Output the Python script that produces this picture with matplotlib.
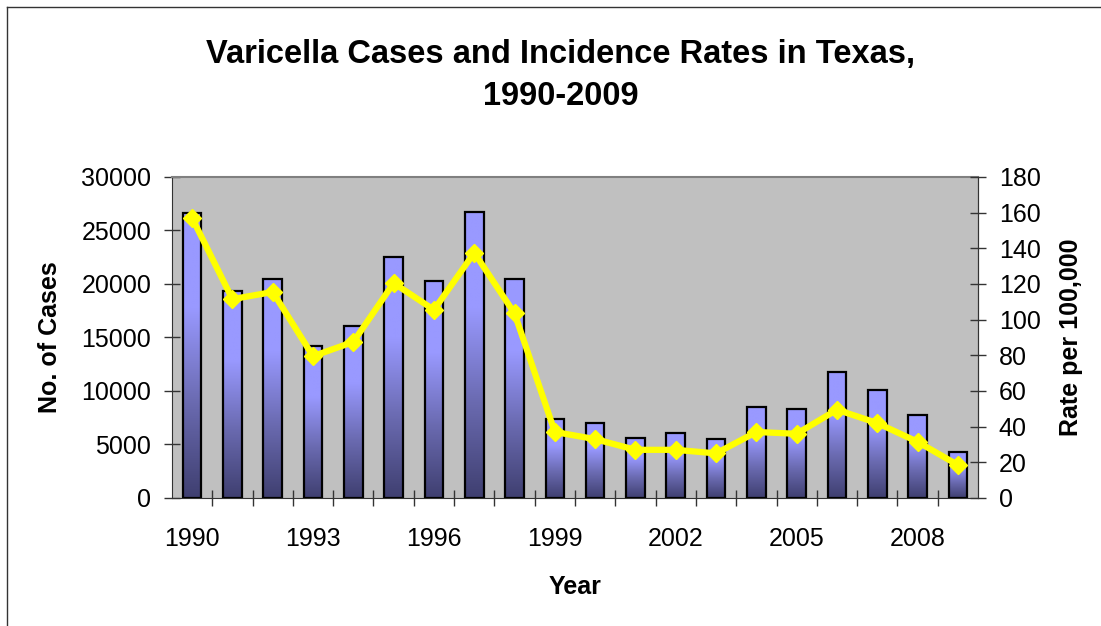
import matplotlib.pyplot as plt
import numpy as np
from matplotlib.colors import LinearSegmentedColormap
from matplotlib.lines import Line2D

plt.rcParams['font.family'] = ['Liberation Sans', 'DejaVu Sans']

years = list(range(1990, 2010))
cases = [26600, 19300, 20500, 14200, 16100, 22500, 20300, 26700, 20500, 7400,
         7000, 5650, 6050, 5500, 8500, 8300, 11750, 10050, 7750, 4300]
rates = [157, 111.5, 115.5, 79.5, 87.5, 120.5, 105.5, 137.5, 103.5, 37,
         33, 27, 27, 25, 37, 36, 49.5, 42, 31.5, 18.5]
year_labels = [str(y) for y in years[::3]]

fig = plt.figure(figsize=(11.01, 6.26), dpi=100)
ax = fig.add_axes([0.1562, 0.2045, 0.7321, 0.5128])
ax.set_facecolor('#C0C0C0')

x = np.arange(len(years))
width = 0.46
cmap = LinearSegmentedColormap.from_list('bar', ['#3F3F70', '#6A6AB0', '#9999FF', '#9999FF'])
grad = np.linspace(0, 1, 256).reshape(-1, 1)
bars = ax.bar(x, cases, width=width, facecolor='none', edgecolor='black', linewidth=1.6, zorder=3)
for b in bars:
    bx, bw, bh = b.get_x(), b.get_width(), b.get_height()
    ax.imshow(grad, cmap=cmap, origin='lower', aspect='auto',
              extent=[bx, bx + bw, 0, bh], zorder=2, interpolation='bilinear')

ax.set_xlim(-0.5, len(years) - 0.5)
ax.set_ylim(0, 30000)
ax.set_yticks(range(0, 30001, 5000))
ax.set_xticks(x[::3])
ax.set_xticklabels(year_labels)
ax.set_xticks(x[:-1] + 0.5, minor=True)
ax.tick_params(axis='x', which='major', length=0, pad=21, labelsize=18)
ax.tick_params(axis='x', which='minor', direction='inout', length=12, width=1, color='#333333')
ax.tick_params(axis='y', direction='inout', length=12, width=1, pad=9, labelsize=18, color='#333333')
for s in ['left', 'bottom', 'right']:
    ax.spines[s].set_color('#333333')
ax.spines['top'].set_color('#808080')
ax.spines['top'].set_linewidth(1.5)

ax2 = ax.twinx()
ax2.plot(x, rates, color='#FFFF00', linewidth=4.5, marker='D', markersize=9.5,
         markeredgecolor='#FFFF00', zorder=5)
ax2.set_ylim(0, 180)
ax2.set_yticks(range(0, 181, 20))
ax2.tick_params(axis='y', direction='inout', length=12, width=1, pad=9, labelsize=18, color='#333333')
ax2.spines['right'].set_color('#333333')
ax2.spines['top'].set_visible(False)
ax2.spines['left'].set_visible(False)
ax2.spines['bottom'].set_visible(False)

ax.set_xlabel('Year', fontsize=18, fontweight='bold', labelpad=17)
ax.set_ylabel('No. of Cases', fontsize=18, fontweight='bold', labelpad=14)
ax2.set_ylabel('Rate per 100,000', fontsize=18, fontweight='bold', labelpad=13)

fig.text(0.509, 0.879, 'Varicella Cases and Incidence Rates in Texas,\n1990-2009',
         ha='center', va='center', fontsize=23.5, fontweight='bold', linespacing=1.45)

top = 1 - 7 / 626
left = 7 / 1101
fig.add_artist(Line2D([left, 1], [top, top], color='#333333', linewidth=1, transform=fig.transFigure))
fig.add_artist(Line2D([left, left], [0, top], color='#333333', linewidth=1, transform=fig.transFigure))

fig.savefig('out.png', dpi=100)
